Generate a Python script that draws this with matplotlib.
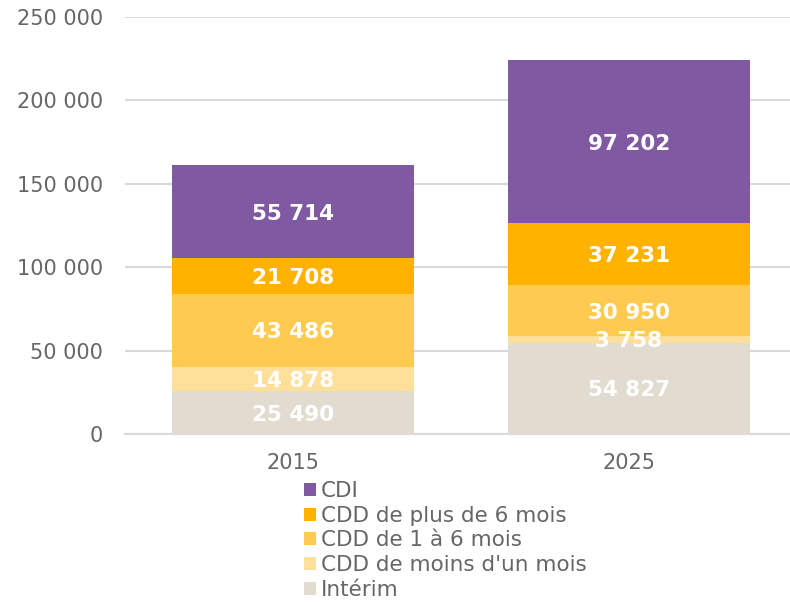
import matplotlib
matplotlib.use("Agg")
import matplotlib.pyplot as plt
import matplotlib.transforms as mtransforms
import numpy as np

categories = ["2015", "2025"]
series_names = ["Intérim", "CDD de moins d'un mois", "CDD de 1 à 6 mois",
                "CDD de plus de 6 mois", "CDI"]
interim = [25490, 54827]
cdd_moins_1 = [14878, 3758]
cdd_1_6 = [43486, 30950]
cdd_plus_6 = [21708, 37231]
cdi = [55714, 97202]
colors = ["#E2DBD0", "#FFE09A", "#FFCA4F", "#FFB300", "#7F59A2"]
yticks = [0, 50000, 100000, 150000, 200000, 250000]

def fmt(v):
    return f"{v:,}".replace(",", " ")

plt.rcParams['font.family'] = ['DejaVu Sans']
fig = plt.figure(figsize=(7.9, 6.02), dpi=100)
ax = fig.add_axes([125/790, 1-434/602, (790-125)/790, (434-17)/602])
label_tr = mtransforms.offset_copy(ax.transData, fig=fig, x=0, y=-1.5, units='points')

x = np.arange(len(categories))
width = 0.72
bottom = np.zeros(len(categories))
handles = []
for name, vals, col in zip(series_names, [interim, cdd_moins_1, cdd_1_6, cdd_plus_6, cdi], colors):
    vals = np.array(vals, dtype=float)
    b = ax.bar(x, vals, width, bottom=bottom, color=col, label=name, zorder=3)
    handles.append(b)
    for xi, v, bt in zip(x, vals, bottom):
        ax.text(xi, bt + v/2, fmt(int(v)), ha='center', va='center', color='white',
                fontsize=15.5, fontweight='bold', zorder=4, transform=label_tr)
    bottom += vals

ax.set_xlim(-0.5, 1.48)
ax.set_ylim(0, 250000)
ax.set_yticks(yticks)
ax.set_yticklabels([fmt(t) for t in yticks])
ax.set_xticks(x)
ax.set_xticklabels(categories)
ax.yaxis.grid(True, color='#D9D9D9', linewidth=1.5, zorder=0)
for s in ['top', 'right', 'left']:
    ax.spines[s].set_visible(False)
ax.spines['bottom'].set_color('#D9D9D9')
ax.spines['bottom'].set_linewidth(1.5)
ax.tick_params(axis='both', length=0, labelsize=15, labelcolor='#666666')
ax.tick_params(axis='y', pad=16)
ax.tick_params(axis='x', pad=14)

leg = fig.legend(handles[::-1], series_names[::-1], loc='upper left',
                 bbox_to_anchor=(304/790, 1-481/602), frameon=False,
                 fontsize=15.5, handlelength=0.55, handleheight=0.55,
                 handletextpad=0.25, labelspacing=0.22, borderaxespad=0, borderpad=0)
for t in leg.get_texts():
    t.set_color('#666666')

fig.savefig("out.png", dpi=100)
